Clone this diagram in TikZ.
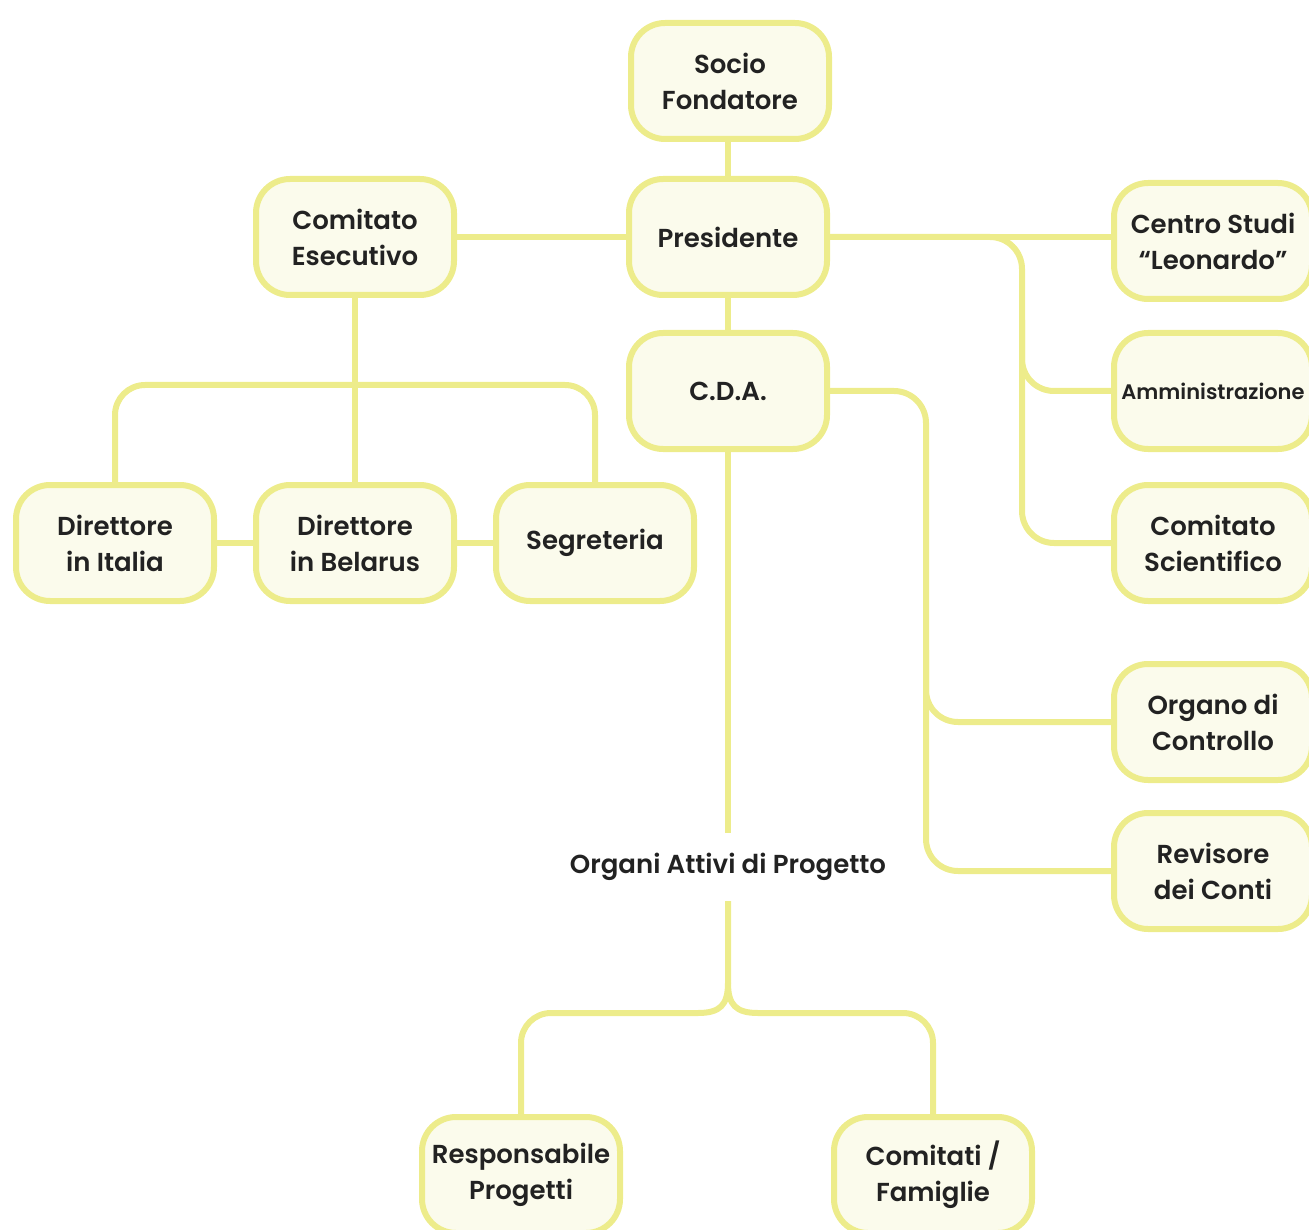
\documentclass[tikz,border=0pt]{standalone}
\usepackage{fontspec}
\setmainfont{Poppins SemiBold}
\usetikzlibrary{calc}
\definecolor{edge}{HTML}{EDEC8B}
\definecolor{boxfill}{HTML}{FBFBEC}
\definecolor{ink}{HTML}{222222}
\tikzset{
  box/.style={draw=edge, fill=boxfill, line width=6pt, rounded corners=34pt,
    minimum width=198pt, minimum height=116pt, inner sep=0pt, align=center,
    text=ink, font=\fontsize{26}{36}\selectfont,
    execute at end node={\par\vspace*{7pt}}},
  smallbox/.style={box, font=\fontsize{21}{28}\selectfont},
  label/.style={text=ink, font=\fontsize{26}{36}\selectfont, inner sep=0pt, minimum height=68pt},
  conn/.style={draw=edge, line width=6pt},
}
\begin{document}
\begin{tikzpicture}[x=1pt,y=-1pt]
\useasboundingbox (0,0) rectangle (1309,1230);
% nodes
\node[box] (socio) at (730,81) {Socio\\Fondatore};
\node[box] (pres) at (728,237) {Presidente};
\node[box] (ce) at (355,237) {Comitato\\Esecutivo};
\node[box] (cda) at (728,391) {C.D.A.};
\node[box] (centro) at (1213,241) {Centro Studi\\“Leonardo”};
\node[smallbox] (amm) at (1213,391) {Amministrazione};
\node[box] (csci) at (1213,543) {Comitato\\Scientifico};
\node[box] (org) at (1213,722) {Organo di\\Controllo};
\node[box] (rev) at (1213,871) {Revisore\\dei Conti};
\node[box] (dit) at (115,543) {Direttore\\in Italia};
\node[box] (dbel) at (355,543) {Direttore\\in Belarus};
\node[box] (seg) at (595,543) {Segreteria};
\node[box] (resp) at (521,1175) {Responsabile\\Progetti};
\node[box] (fam) at (933,1175) {Comitati /\\Famiglie};
\node[label] (oa) at (728,867) {Organi Attivi di Progetto};
% helper coordinates
\coordinate (bus1) at (1022,543);
\coordinate (bus1a) at (1022,320);
\coordinate (bus2) at (926,871);
\coordinate (bus2a) at (926,650);
\coordinate (bar) at (355,385);
\coordinate (split) at (728,983);
\coordinate (splL) at (698,1013);
\coordinate (splR) at (758,1013);
% connectors
\draw[conn] (socio.south -| pres.north) -- (pres.north);
\draw[conn] (pres.south) -- (cda.north);
\draw[conn] (ce.east) -- (pres.west);
\draw[conn] (ce.south) -- (dbel.north);
\draw[conn, rounded corners=30pt] (dit.north) -- (dit.north |- bar) -- (seg.north |- bar) -- (seg.north);
\draw[conn] (dit.east) -- (dit.east -| dbel.west);
\draw[conn] (dbel.east) -- (dbel.east -| seg.west);
\draw[conn] (pres.east) -- (pres.east -| centro.west);
\draw[conn, rounded corners=32pt] (pres.east) -| (bus1) -- (csci.west);
\draw[conn, rounded corners=32pt] (bus1a) |- (amm.west);
\draw[conn, rounded corners=32pt] (cda.east) -| (bus2) -- (rev.west);
\draw[conn, rounded corners=32pt] (bus2a) |- (org.west);
\draw[conn] (cda.south) -- (oa.north);
\draw[conn] (oa.south) -- (split) .. controls (728,1005) and (720,1013) .. (splL) [rounded corners=30pt] -| (resp.north);
\draw[conn] (split) .. controls (728,1005) and (736,1013) .. (splR) [rounded corners=30pt] -| (fam.north);
\end{tikzpicture}
\end{document}
